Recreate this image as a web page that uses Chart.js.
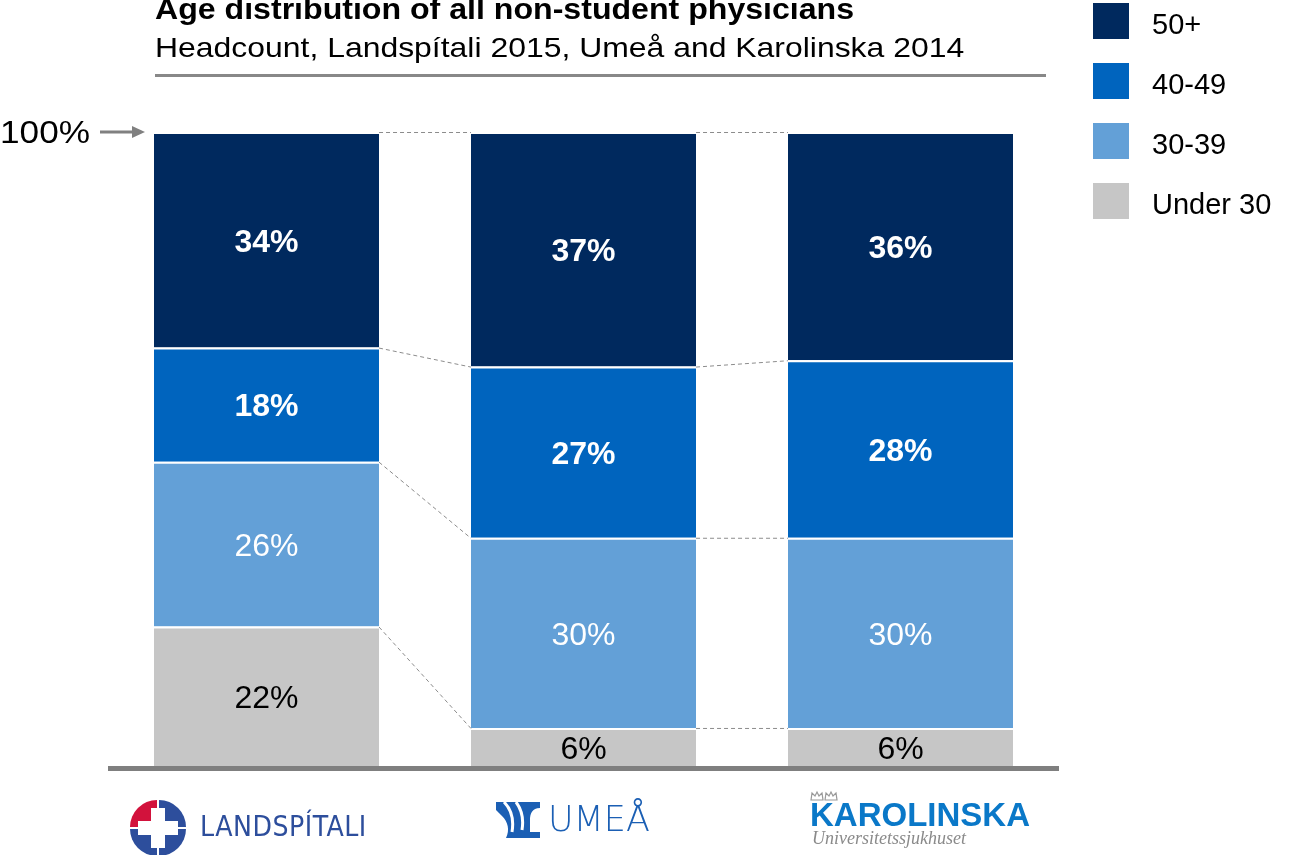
<!DOCTYPE html>
<html>
<head>
<meta charset="utf-8">
<script src="https://cdn.jsdelivr.net/npm/chart.js@4.4.0/dist/chart.umd.min.js"></script>
<style>
  body { margin: 0; background: #fff; font-family: "Liberation Sans", Arial, sans-serif; }
  #wrap { position: relative; width: 1299px; height: 855px; overflow: hidden; }
  #c { position: absolute; left: 0; top: 0; }
  .abs { position: absolute; white-space: nowrap; }
  .title { left: 155px; top: -6px; font-size: 30px; line-height: 30px; font-weight: bold; color: #000; transform: scaleX(1.07); transform-origin: left; }
  .subtitle { left: 155px; top: 34px; font-size: 28px; line-height: 28px; color: #000; transform: scaleX(1.14); transform-origin: left; }
  .rule { left: 155px; top: 74px; width: 891px; height: 3px; background: #888; }
  .legend-box { position: absolute; left: 1093px; width: 36px; height: 36px; }
  .legend-txt { position: absolute; left: 1152px; font-size: 29px; line-height: 36px; color: #000; }
  .hundred { left: 0; top: 116px; font-size: 32px; line-height: 32px; color: #000; transform: scaleX(1.1); transform-origin: left; }
</style>
</head>
<body>
<div id="wrap">
  <canvas id="c" width="1299" height="855"></canvas>

  <div class="abs title">Age distribution of all non-student physicians</div>
  <div class="abs subtitle">Headcount, Landspítali 2015, Umeå and Karolinska 2014</div>
  <div class="abs rule"></div>

  <div class="abs hundred">100%</div>
  <svg class="abs" style="left:98px;top:124px" width="50" height="16">
    <line x1="2" y1="8" x2="36" y2="8" stroke="#808080" stroke-width="3"/>
    <polygon points="34,2 47,8 34,14" fill="#808080"/>
  </svg>

  <div id="legend"></div>

  <!-- logos -->
  <svg class="abs" style="left:128px;top:798px" width="60" height="58" viewBox="0 0 60 58">
    <path d="M29,29 L29,2 A27,27 0 0 0 2,29 Z" fill="#d2123c"/>
    <path d="M31,29 L31,2 A27,27 0 0 1 58,29 Z" fill="#2d4e9c"/>
    <path d="M29,31 L2,31 A27,27 0 0 0 29,58 Z" fill="#2d4e9c"/>
    <path d="M31,31 L58,31 A27,27 0 0 1 31,58 Z" fill="#2d4e9c"/>
    <path d="M23,10 h14 v13 h13 v14 h-13 v13 h-14 v-13 h-13 v-14 h13 Z" fill="#fff"/>
  </svg>
  <div class="abs" style="left:200px;top:810px;font-family:'DejaVu Sans Condensed','Liberation Sans Narrow',sans-serif;font-size:29px;line-height:32px;color:#2d4e9c;letter-spacing:0.5px;transform:scaleX(0.97);transform-origin:left">LANDSPÍTALI</div>

  <svg class="abs" style="left:496px;top:802px" width="46" height="36" viewBox="0 0 46 36">
    <path d="M0,0 H44 V6 C36,6 34,12 34,18 V30 H44 V36 H10 C14,28 12,20 6,14 L0,8 Z" fill="#1b5fb4"/>
    <path d="M8,0 C16,8 18,18 16,30" stroke="#fff" stroke-width="3" fill="none"/>
    <path d="M20,0 C26,8 28,16 26,28" stroke="#fff" stroke-width="3" fill="none"/>
  </svg>
  <div class="abs" style="left:548px;top:799px;font-family:'DejaVu Sans','Open Sans',sans-serif;font-size:35px;line-height:40px;color:#1b5fb4;font-weight:300">UMEÅ</div>

  <svg class="abs" style="left:810px;top:790px" width="28" height="12" viewBox="0 0 28 12">
    <path d="M1,10 L2,3 L5,6 L7,2 L9,6 L12,3 L13,10 Z" fill="none" stroke="#999" stroke-width="1.2"/>
    <path d="M15,10 L16,3 L19,6 L21,2 L23,6 L26,3 L27,10 Z" fill="none" stroke="#999" stroke-width="1.2"/>
  </svg>
  <div class="abs" style="left:810px;top:798px;font-size:33px;line-height:34px;font-weight:bold;color:#0a78c8">KAROLINSKA</div>
  <div class="abs" style="left:812px;top:828px;font-family:'Liberation Serif','DejaVu Serif',serif;font-style:italic;font-size:18px;line-height:20px;color:#8a8a8a">Universitetssjukhuset</div>
</div>

<script>
// --- data ---
const hospitals = ["Landspítali", "Umeå", "Karolinska"];
const ageGroups = ["Under 30", "30-39", "40-49", "50+"];
const under30 = [22, 6, 6];
const age30to39 = [26, 30, 30];
const age40to49 = [18, 27, 28];
const age50plus = [34, 37, 36];

const groupColors = ["#c6c6c6", "#63a0d7", "#0064be", "#00295e"];
const labelColors = ["#000", "#fff", "#fff", "#fff"];
const labelBold = [false, false, true, true];

// --- legend (top = 50+) ---
const legendEl = document.getElementById("legend");
[3, 2, 1, 0].forEach((gi, row) => {
    const top = 3 + row * 60;
    const box = document.createElement("div");
    box.className = "legend-box";
    box.style.top = top + "px";
    box.style.background = groupColors[gi];
    legendEl.appendChild(box);
    const txt = document.createElement("div");
    txt.className = "legend-txt";
    txt.style.top = (top + 3) + "px";
    txt.textContent = ageGroups[gi];
    legendEl.appendChild(txt);
});

// 柱內百分比
const segmentLabels = {
    id: "segmentLabels",
    afterDatasetsDraw(chart) {
        const ctx = chart.ctx;
        ctx.save();
        ctx.textAlign = "center";
        ctx.textBaseline = "middle";
        chart.data.datasets.forEach((ds, di) => {
            const meta = chart.getDatasetMeta(di);
            meta.data.forEach((bar, i) => {
                const cy = (bar.y + bar.base) / 2;
                ctx.font = (labelBold[di] ? "bold " : "") + "32px 'Liberation Sans', Arial, sans-serif";
                ctx.fillStyle = labelColors[di];
                ctx.fillText(ds.data[i] + "%", bar.x, cy + 3);
            });
        });
        ctx.restore();
    }
};

// 柱間虛線 + 底線
const connectors = {
    id: "connectors",
    afterDatasetsDraw(chart) {
        const ctx = chart.ctx;
        const y = chart.scales.y;
        const area = chart.chartArea;
        const n = chart.data.labels.length;
        ctx.save();
        ctx.strokeStyle = "#8c8c8c";
        ctx.lineWidth = 1;
        ctx.setLineDash([4, 3]);
        const cum = new Array(n).fill(0);
        chart.data.datasets.forEach((ds, di) => {
            for (let i = 0; i < n; i++) cum[i] += ds.data[i];
            const meta = chart.getDatasetMeta(di);
            for (let i = 0; i < n - 1; i++) {
                const a = meta.data[i], b = meta.data[i + 1];
                ctx.beginPath();
                ctx.moveTo(a.x + a.width / 2, y.getPixelForValue(cum[i]) + 0.5);
                ctx.lineTo(b.x - b.width / 2, y.getPixelForValue(cum[i + 1]) + 0.5);
                ctx.stroke();
            }
        });
        ctx.setLineDash([]);
        ctx.fillStyle = "#7f7f7f";
        ctx.fillRect(area.left, area.bottom, area.right - area.left, 5);
        ctx.restore();
    }
};

const seriesValues = [under30, age30to39, age40to49, age50plus];

new Chart(document.getElementById("c"), {
    type: "bar",
    data: {
        labels: hospitals,
        datasets: seriesValues.map((vals, gi) => ({
            label: ageGroups[gi],
            data: vals,
            backgroundColor: groupColors[gi],
            borderColor: "#ffffff",
            borderWidth: { top: 2, bottom: 0, left: 0, right: 0 },
            borderSkipped: false,
            categoryPercentage: 1,
            barPercentage: 0.71
        }))
    },
    options: {
        responsive: false,
        animation: false,
        layout: { padding: { left: 108, right: 240, top: 132, bottom: 89 } },
        scales: {
            x: { stacked: true, display: false },
            y: { stacked: true, display: false, min: 0, max: 100 }
        },
        plugins: {
            legend: { display: false },
            tooltip: { enabled: false },
            title: { display: false }
        }
    },
    plugins: [connectors, segmentLabels]
});
</script>
</body>
</html>
